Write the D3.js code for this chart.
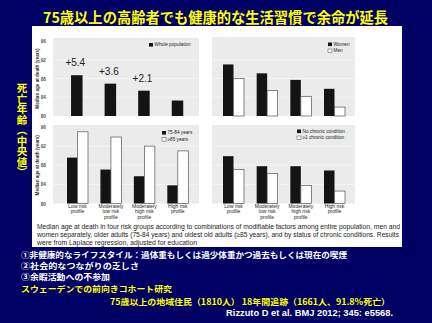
<!DOCTYPE html>
<html><head><meta charset="utf-8">
<script src="https://cdn.jsdelivr.net/npm/d3@7"></script>
<style>html,body{margin:0;padding:0;background:#000064;overflow:hidden}</style>
</head><body><svg id="chart" width="432" height="323"></svg>
<script>
// Median age at death (years) by risk profile
const riskGroups = [["Low risk", "profile"], ["Moderately", "low risk", "profile"], ["Moderately", "high risk", "profile"], ["High risk", "profile"]];
const wholePop = [88.7, 86.9, 85.4, 83.3];
const women = [91.0, 89.1, 87.7, 85.8];
const men = [88.0, 85.4, 84.2, 81.9];
const age7584 = [89.6, 87.1, 85.7, 83.8];
const age85plus = [95.0, 93.9, 92.0, 91.0];
const noChronic = [89.9, 87.8, 87.8, 86.9];
const anyChronic = [87.1, 86.3, 83.8, 82.6];
const yTicks = [80, 84, 88, 92, 96];
const yDomain = [80, 96];

const titleText = "75歳以上の高齢者でも健康的な生活習慣で余命が延長";
const sideLabel = "死亡年齢（中央値）";
const captionLines = [
  "Median age at death in four risk groups according to combinations of modifiable factors among entire population, men and",
  "women separately, older adults (75-84 years) and oldest old adults (\u226585 years), and by status of chronic conditions. Results",
  "were from Laplace regression, adjusted for education"
];
const notes = [
  {text: "①非健康的なライフスタイル：過体重もしくは過少体重かつ過去もしくは現在の喫煙", color: "#ffffff"},
  {text: "②社会的なつながりの乏しさ", color: "#ffffff"},
  {text: "③余暇活動への不参加", color: "#ffffff"},
  {text: "スウェーデンでの前向きコホート研究", color: "#ffff00"},
  {text: "75歳以上の地域住民（1810人） 18年間追跡（1661人、91.8%死亡）", color: "#ffff00"}
];
const citation = "Rizzuto D et al. BMJ 2012; 345: e5568.";

const svg = d3.select("#chart");
const NAVY = "#000064";
const JP = "'Noto Sans CJK JP', 'Noto Sans CJK SC', sans-serif";
const EN = "'Liberation Sans', Arial, sans-serif";

svg.append("rect").attr("width", 432).attr("height", 323).attr("fill", NAVY);

// Title
svg.append("text").attr("x", 215.5).attr("y", 22.5).attr("text-anchor", "middle")
  .attr("font-family", JP).attr("font-weight", "bold").attr("font-size", 14.4)
  .attr("fill", "#ffff00").attr("textLength", 345).attr("lengthAdjust", "spacingAndGlyphs")
  .text(titleText);

// Vertical side label
svg.append("text").attr("x", 22).attr("y", 83)
  .attr("font-family", JP).attr("font-weight", "bold").attr("font-size", 10.5)
  .attr("fill", "#ffff00").style("writing-mode", "vertical-rl")
  .text(sideLabel);

// White figure panel
svg.append("rect").attr("x", 32).attr("y", 26).attr("width", 370).attr("height", 221).attr("fill", "#ffffff");

const panels = [
  {x0: 53, x1: 199, gTop: 38, yTop: 41, yBot: 116, c: [76.8, 177.5], series: [wholePop], ticks: true, xlabels: false,
   legend: {x: 149, y: 43, items: ["Whole population"]}, gains: true},
  {x0: 212, x1: 355, gTop: 37, yTop: 41, yBot: 116, c: [233.5, 334.5], series: [women, men], ticks: false, xlabels: false,
   legend: {x: 328, y: 42.5, items: ["Women", "Men"]}},
  {x0: 53, x1: 199, gTop: 125, yTop: 127, yBot: 203.5, c: [77.5, 177.8], series: [age7584, age85plus], ticks: true, xlabels: true,
   legend: {x: 162, y: 131, items: ["75-84 years", "\u226585 years"]}},
  {x0: 212, x1: 355, gTop: 125, yTop: 127, yBot: 203.5, c: [233.5, 334.5], series: [noChronic, anyChronic], ticks: false, xlabels: true,
   legend: {x: 297, y: 129.5, items: ["No chronic condition", "\u22651 chronic condition"]}}
];

const fills = ["#141414", "#ffffff"];

panels.forEach(p => {
  const g = svg.append("g");
  const y = d3.scaleLinear().domain(yDomain).range([p.yBot, p.yTop]);
  const x = d3.scalePoint().domain(d3.range(riskGroups.length)).range(p.c);

  g.append("rect").attr("x", p.x0).attr("y", p.gTop).attr("width", p.x1 - p.x0).attr("height", p.yBot - p.gTop)
    .attr("fill", "#ebebeb");
  g.selectAll(".grid").data(yTicks.slice(1, -1)).join("line")
    .attr("x1", p.x0).attr("x2", p.x1).attr("y1", d => y(d)).attr("y2", d => y(d))
    .attr("stroke", "#f7f7f7").attr("stroke-width", 0.8);

  if (p.ticks) {
    const axis = d3.axisLeft(y).tickValues(yTicks).tickSize(0).tickPadding(0);
    const ag = g.append("g").attr("transform", `translate(46,0)`).call(axis);
    ag.select(".domain").remove();
    ag.selectAll("text").attr("font-family", EN).attr("font-size", 4.8).attr("fill", "#555").attr("font-weight", "bold");
    g.append("text")
      .attr("transform", `translate(38.5,${(p.yTop + p.yBot) / 2}) rotate(-90)`)
      .attr("text-anchor", "middle").attr("font-family", EN).attr("font-size", 4.6).attr("font-weight", "bold")
      .attr("fill", "#333").text("Median age at death (years)");
  }

  const n = p.series.length;
  const bw = n === 1 ? 11.5 : 10.5;
  p.series.forEach((s, si) => {
    g.selectAll(".b" + si).data(s).join("rect")
      .attr("x", (d, i) => x(i) - (n * bw) / 2 + si * bw)
      .attr("y", d => y(d))
      .attr("width", bw)
      .attr("height", d => y(yDomain[0]) - y(d))
      .attr("fill", fills[si])
      .attr("stroke", si === 0 ? "none" : "#555")
      .attr("stroke-width", 0.7);
  });

  if (p.gains) {
    const base = p.series[0][p.series[0].length - 1];
    g.selectAll(".gain").data(p.series[0].slice(0, -1)).join("text")
      .attr("x", (d, i) => x(i) - 1.5).attr("y", d => y(d) - 9)
      .attr("text-anchor", "middle").attr("font-family", EN).attr("font-size", 10).attr("fill", "#222")
      .text(d => "+" + (d - base).toFixed(1));
  }

  p.legend.items.forEach((t, i) => {
    const ly = p.legend.y + i * 6.5;
    g.append("rect").attr("x", p.legend.x).attr("y", ly).attr("width", 4).attr("height", 3.6)
      .attr("fill", fills[i]).attr("stroke", i === 0 ? "none" : "#444").attr("stroke-width", 0.5);
    g.append("text").attr("x", p.legend.x + 5.5).attr("y", ly + 3.4)
      .attr("font-family", EN).attr("font-size", 4.7).attr("fill", "#222").text(t);
  });

  if (p.xlabels) {
    riskGroups.forEach((lines, i) => {
      lines.forEach((ln, li) => {
        g.append("text").attr("x", x(i)).attr("y", 207.5 + li * 5.8)
          .attr("text-anchor", "middle").attr("font-family", EN).attr("font-size", 5)
          .attr("fill", "#222").text(ln);
      });
    });
  }
});

// Caption under the figure
const capLen = [363, 362, 160];
captionLines.forEach((t, i) => {
  svg.append("text").attr("x", 37).attr("y", 228.5 + i * 8)
    .attr("font-family", EN).attr("font-size", 7).attr("fill", "#222")
    .attr("textLength", capLen[i]).attr("lengthAdjust", "spacingAndGlyphs").text(t);
});

// Notes below the figure
const noteY = [258.3, 269.1, 280.1, 291.8, 305.2];
const noteX = [21, 21, 21, 21, 110];
const noteW = [326, 118, 89, 151, 280];
notes.forEach((nt, i) => {
  svg.append("text").attr("x", noteX[i]).attr("y", noteY[i])
    .attr("font-family", JP).attr("font-weight", "bold").attr("font-size", 8.2)
    .attr("textLength", noteW[i]).attr("lengthAdjust", "spacingAndGlyphs")
    .attr("fill", nt.color).text(nt.text);
});

svg.append("text").attr("x", 393).attr("y", 316.3).attr("text-anchor", "end")
  .attr("font-family", EN).attr("font-weight", "bold").attr("font-size", 9.3)
  .attr("fill", "#ffffff").text(citation);
</script></body></html>
